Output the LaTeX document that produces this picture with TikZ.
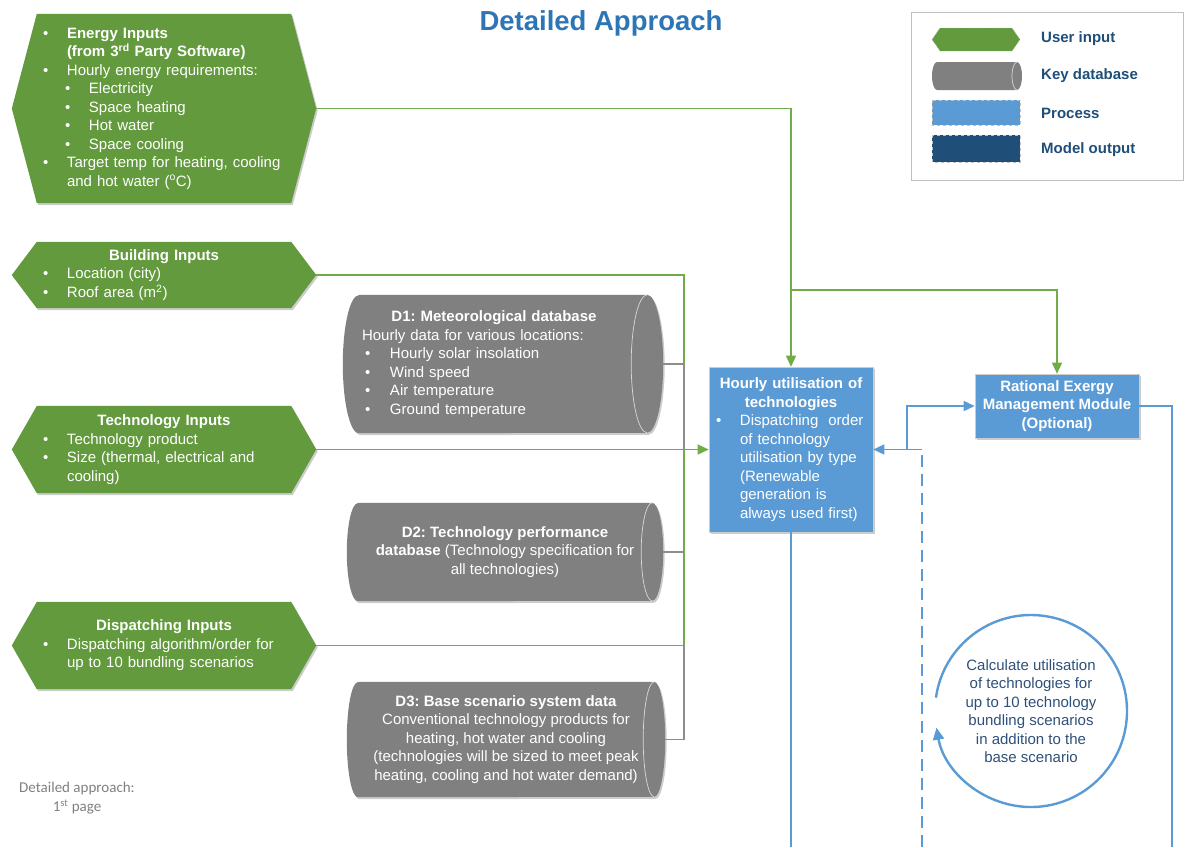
\documentclass[tikz,border=0pt]{standalone}
\usepackage{fontspec}
\setmainfont{Liberation Sans}
\newfontfamily\notefont{Carlito}
\usetikzlibrary{arrows.meta,backgrounds,shadows}

\definecolor{inputgreen}{RGB}{98,154,61}
\definecolor{linkgreen}{RGB}{112,173,71}
\definecolor{dbgray}{RGB}{128,128,128}
\definecolor{procblue}{RGB}{91,155,213}
\definecolor{outblue}{RGB}{31,78,121}
\definecolor{titleblue}{RGB}{46,117,182}
\definecolor{circletext}{RGB}{47,80,120}
\definecolor{notegray}{RGB}{128,128,128}

\newcommand\bodyfont{\fontsize{15}{18.5}\selectfont}
\newcommand\bul[1]{\mbox{\makebox[24pt][l]{\textbullet}#1}}
\newcommand\subbul[1]{\mbox{\hspace*{22pt}\makebox[24pt][l]{\textbullet}#1}}
\newcommand\ind[1]{\mbox{\hspace*{24pt}#1}}
\newcommand\dbul[1]{\mbox{\makebox[28pt][l]{\hspace*{3pt}\textbullet}#1}}
\newcommand\boxtitle[1]{\makebox[\hsize][c]{\bfseries #1}}

% hexagon round an input node: #1 node, #2 slant
\newcommand\hexshape[2]{%
  \path[hexfill] ([xshift=#2pt]#1.north west) -- ([xshift=-#2pt]#1.north east) -- (#1.east)
    -- ([xshift=-#2pt]#1.south east) -- ([xshift=#2pt]#1.south west) -- (#1.west) -- cycle;}
% lying cylinder round a database node: #1 node, #2 x radius, #3 y radius
\newcommand\dbshape[3]{%
  \path[dbfill] ([xshift=#2pt]#1.north west) -- ([xshift=-#2pt]#1.north east)
    arc[start angle=90, end angle=-90, x radius=#2, y radius=#3]
    -- ([xshift=#2pt]#1.south west)
    arc[start angle=270, end angle=90, x radius=#2, y radius=#3] -- cycle;
  \draw[dbrim] ([xshift=-#2pt]#1.north east) arc[start angle=90, end angle=270, x radius=#2, y radius=#3];}

\begin{document}
\frenchspacing
\begin{tikzpicture}[x=1pt, y=1pt,
  soft shadow/.style={drop shadow={shadow xshift=1.5pt, shadow yshift=-2pt, opacity=0.2, fill=black}},
  inbox/.style={inner sep=0pt, text=white, font=\bodyfont, align=left, minimum width=304},
  dbbox/.style={inner sep=0pt, text=white, font=\bodyfont, align=center},
  procbox/.style={rectangle, fill=procblue, draw=black!20, line width=0.6pt, inner sep=0pt, text=white, font=\bodyfont, soft shadow},
  hexfill/.style={fill=inputgreen, soft shadow},
  dbfill/.style={fill=dbgray, soft shadow},
  dbrim/.style={draw=white!70!dbgray, line width=0.7pt},
  greenlink/.style={draw=linkgreen, line width=1.4pt},
  graylink/.style={draw=dbgray!90, line width=1.1pt},
  bluelink/.style={draw=procblue, line width=1.5pt},
  arrowtip/.style={-{Triangle[length=11pt, width=10pt]}},
  legendtext/.style={anchor=west, inner sep=0pt, text=outblue, font=\bfseries\bodyfont}
]
\useasboundingbox (0,0) rectangle (1185,-847);

\node (title) at (601,-23) [text=titleblue, font=\bfseries\fontsize{27.5}{32}\selectfont] {Detailed Approach};

% user inputs
\node (energy) at (164,-108.5) [inbox, minimum height=189, text width=242] {
  \bul{\textbf{Energy Inputs}}\\
  \ind{\textbf{(from 3\textsuperscript{rd} Party Software)}}\\
  \bul{Hourly energy requirements:}\\
  \subbul{Electricity}\\
  \subbul{Space heating}\\
  \subbul{Hot water}\\
  \subbul{Space cooling}\\
  \bul{Target temp for heating, cooling}\\
  \ind{and hot water (\textsuperscript{o}C)}};
\node (building) at (164,-275) [inbox, minimum height=66, text width=242] {
  \boxtitle{Building Inputs}\\
  \bul{Location (city)}\\
  \bul{Roof area (m\textsuperscript{2})}};
\node (tech) at (164,-449.5) [inbox, minimum height=87, text width=242] {
  \boxtitle{Technology Inputs}\\
  \bul{Technology product}\\
  \bul{Size (thermal, electrical and}\\
  \ind{cooling)}};
\node (dispatch) at (164,-645.5) [inbox, minimum height=87, text width=242] {
  \boxtitle{Dispatching Inputs}\\
  \bul{Dispatching algorithm/order for}\\
  \ind{up to 10 bundling scenarios}};

% key databases
\node (d1) at (503,-364) [dbbox, minimum width=320, minimum height=138, text width=282, align=left] {
  \makebox[264pt][c]{\bfseries D1: Meteorological database}\\
  Hourly data for various locations:\\
  \dbul{Hourly solar insolation}\\
  \dbul{Wind speed}\\
  \dbul{Air temperature}\\
  \dbul{Ground temperature}};
\node (d2) at (505,-552) [dbbox, minimum width=316, minimum height=98] {
  \textbf{D2: Technology performance}\\
  \textbf{database} (Technology specification for\\
  all technologies)};
\node (d3) at (506,-739.5) [dbbox, minimum width=318, minimum height=115] {
  \textbf{D3: Base scenario system data}\\
  Conventional technology products for\\
  heating, hot water and cooling\\
  (technologies will be sized to meet peak\\
  heating, cooling and hot water demand)};

% processes
\node (hourly) at (791,-449.5) [procbox, minimum width=164, minimum height=165, text width=150, align=left] {
  \boxtitle{Hourly utilisation of}\\
  \boxtitle{technologies}\\
  \bul{Dispatching\ \ order}\\
  \ind{of technology}\\
  \ind{utilisation by type}\\
  \ind{(Renewable}\\
  \ind{generation is}\\
  \ind{always used first)}};
\node (rational) at (1057,-406) [procbox, minimum width=164, minimum height=64, align=center, font=\bfseries\bodyfont] {
  Rational Exergy\\ Management Module\\ (Optional)};

\node (scen) at (1031,-711) [text=circletext, font=\bodyfont, align=center] {
  Calculate utilisation\\ of technologies for\\ up to 10 technology\\ bundling scenarios\\ in addition to the\\ base scenario};
\draw[bluelink, line width=2.4pt, -{Triangle[length=12pt, width=11pt]}]
  ([shift={(172:96)}]scen.center) arc[start angle=172, end angle=-170, radius=96];

\node (note) at (77,-798) [text=notegray, font=\notefont\fontsize{15}{19}\selectfont, align=center] {
  Detailed approach:\\ 1\textsuperscript{st} page};

% legend
\draw[black!25, line width=1pt] (911,-12) rectangle (1183,-180);
\path[fill=inputgreen, draw=black!25, dashed] (932,-39.5) -- (940,-28) -- (1012,-28) -- (1020,-39.5) -- (1012,-51) -- (940,-51) -- cycle;
\path[fill=dbgray] (937,-62) -- (1017,-62) arc[start angle=90, end angle=-90, x radius=5, y radius=14]
  -- (937,-90) arc[start angle=270, end angle=90, x radius=5, y radius=14] -- cycle;
\draw[dbrim] (1017,-62) arc[start angle=90, end angle=270, x radius=5, y radius=14];
\path[fill=procblue, draw=black!25, dashed] (932,-100) rectangle (1020,-125);
\path[fill=outblue, draw=black!25, dashed] (932,-135) rectangle (1020,-162);
\node (lg input) at (1041,-39) [legendtext] {User input};
\node (lg db) at (1041,-76) [legendtext] {Key database};
\node (lg proc) at (1041,-113) [legendtext] {Process};
\node (lg out) at (1041,-150) [legendtext] {Model output};

\begin{scope}[on background layer]
\hexshape{energy}{25}
\hexshape{building}{25}
\hexshape{tech}{25}
\hexshape{dispatch}{25}
\dbshape{d1}{16}{69}
\dbshape{d2}{11}{49}
\dbshape{d3}{11}{57.5}
\end{scope}

% connectors
\coordinate (bus) at (684,-645.5);
\coordinate (split) at (791,-290);
\coordinate (fork) at (907,-449.5);
\coordinate (ret) at (922,-449.5);
\coordinate (ret foot) at (922,-847);
\coordinate (hourly out) at (791,-847);
\coordinate (rational out) at (1172,-847);

\draw[greenlink] (building.east) -| (bus);
\draw[greenlink] (dispatch.east) -- (bus);
\draw[graylink] (d1.east) -| (tech.east -| bus);
\draw[graylink] (d2.east) -- (d2.east -| bus);
\draw[graylink] (d3.east) -| (bus);
\draw[greenlink, arrowtip] (tech.east) -- (hourly.west);
\draw[greenlink, arrowtip] (energy.east) -| (hourly.north);
\draw[greenlink, arrowtip] (split) -| (rational.north);
\draw[bluelink] (hourly.south) -- (hourly out);
\draw[bluelink] (rational.east) -| (rational out);
\draw[bluelink, dash pattern=on 12pt off 7pt] (ret foot) -- (ret);
\draw[bluelink, arrowtip] (ret) -- (hourly.east);
\draw[bluelink, arrowtip] (fork) |- (rational.west);

\end{tikzpicture}
\end{document}
